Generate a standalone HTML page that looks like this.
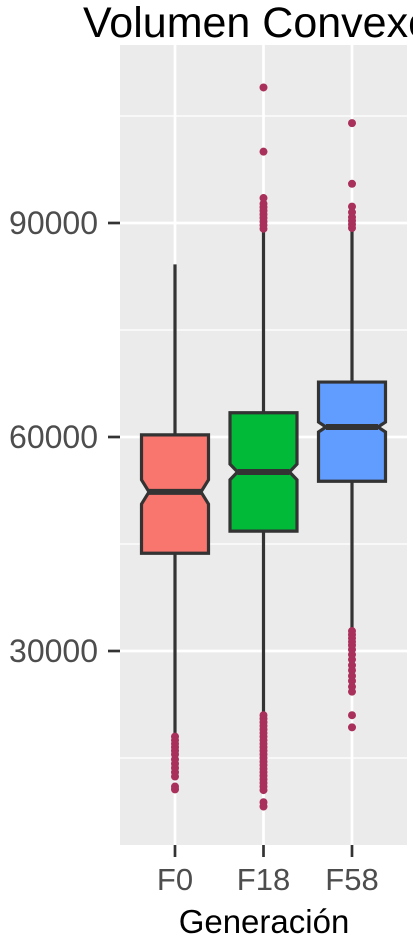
<!DOCTYPE html>
<html><head><meta charset="utf-8"><style>
body{margin:0;background:#fff;overflow:hidden}
svg{display:block;font-family:"Liberation Sans",Arial,sans-serif}
</style></head><body>
<svg id="c" width="413" height="944">
<text x="83" y="37" font-size="43" fill="#000">Volumen Convexo</text>
<rect x="120" y="45" width="287" height="800" fill="#ebebeb"/>
<g id="grid"></g><g id="marks"></g><g id="axes"></g>
<text x="264" y="933" font-size="33" text-anchor="middle" fill="#000">Generación</text>
</svg>
<script>
const categories=["F0","F18","F58"];
const q1=[43700,46800,53800];
const med=[52300,55100,61400];
const q3=[60300,63400,67700];
const whiskLo=[18200,21400,32900];
const whiskHi=[84200,89000,89000];
const notchLo=[50600,54000,60700];
const notchHi=[54000,56200,62100];
const outliers=[[18000,17500,17000,16500,16000,15500,14800,14200,13600,13000,12400,11000,10600],
[21000,20500,20000,19500,19000,18500,18000,17500,17000,16500,16000,15500,15000,14500,14000,13500,13000,12500,12000,11500,11000,10500,8800,8200,89200,89700,90200,90700,91200,91700,92200,92700,93500,100000,109000],
[32800,32300,31800,31300,30800,30200,29500,28800,28000,27300,26500,25800,25000,24300,21000,19300,89300,89800,90300,90800,91500,92300,95500,104000]];
const yTicks=[30000,60000,90000];
const yMinor=[15000,45000,75000,105000];
const ns="http://www.w3.org/2000/svg";
const y=v=>865-v*214/30000;
const x=i=>175+i*88.5;
const fills=["#F8766D","#00BA38","#619CFF"];
function mk(t,a,p){const e=document.createElementNS(ns,t);for(const k in a)e.setAttribute(k,a[k]);p.appendChild(e);return e;}
const g=document.getElementById('grid'),m=document.getElementById('marks'),ax=document.getElementById('axes');
yMinor.forEach(v=>{const l=mk('line',{x1:120,x2:407,y1:y(v),y2:y(v),stroke:'#fff','stroke-width':1.3},g);

});
yTicks.forEach(v=>{const l=mk('line',{x1:120,x2:407,y1:y(v),y2:y(v),stroke:'#fff','stroke-width':2.7},g);


const t=mk('line',{x1:108,x2:120,y1:y(v),y2:y(v),stroke:'#333','stroke-width':2.7},ax);


const tx=mk('text',{x:98,y:y(v)+11,'font-size':32,'text-anchor':'end',fill:'#4d4d4d'},ax);tx.textContent=v;

});
categories.forEach((c,i)=>{const cx=x(i);
const l=mk('line',{x1:cx,x2:cx,y1:45,y2:845,stroke:'#fff','stroke-width':2.7},g);


const t=mk('line',{x1:cx,x2:cx,y1:845,y2:857,stroke:'#333','stroke-width':2.7},ax);


const tx=mk('text',{x:cx,y:890,'font-size':31,'text-anchor':'middle',fill:'#4d4d4d'},ax);tx.textContent=c;


const w=mk('line',{x1:cx,x2:cx,y1:y(whiskHi[i]),y2:y(whiskLo[i]),stroke:'#333','stroke-width':3.2},m);


const hw=33.5,nw=26;
const pts=[[cx-hw,y(q3[i])],[cx+hw,y(q3[i])],[cx+hw,y(notchHi[i])],[cx+nw,y(med[i])],[cx+hw,y(notchLo[i])],[cx+hw,y(q1[i])],[cx-hw,y(q1[i])],[cx-hw,y(notchLo[i])],[cx-nw,y(med[i])],[cx-hw,y(notchHi[i])]];
const b=mk('polygon',{points:pts.map(p=>p.join(',')).join(' '),fill:fills[i],stroke:'#333','stroke-width':3.2},m);


const md=mk('line',{x1:cx-nw,x2:cx+nw,y1:y(med[i]),y2:y(med[i]),stroke:'#333','stroke-width':6},m);


outliers[i].forEach(v=>{const o=mk('circle',{cx:cx,cy:y(v),r:4,fill:'#A8305A'},m);

});
});
</script>
</body></html>
